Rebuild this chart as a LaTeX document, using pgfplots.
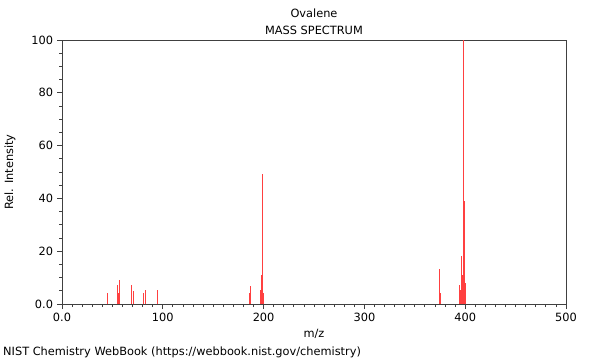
\documentclass[border=0pt]{standalone}
\usepackage{fontspec}
\setmainfont{DejaVu Sans}
\usepackage{pgfplots}
\pgfplotsset{compat=1.18}
\definecolor{peak}{rgb}{1,0.25,0.25}
\definecolor{axc}{rgb}{0.25,0.25,0.25}
\begin{document}
\fontsize{11.4}{13}\selectfont
\begin{tikzpicture}[x=1bp,y=1bp]
\useasboundingbox (0,0) rectangle (600,360);
\begin{axis}[at={(62bp,56bp)}, anchor=south west, scale only axis,
  width=504bp, height=264bp,
  xmin=0, xmax=500, ymin=0, ymax=100,
  xtick={0,100,200,300,400,500}, xticklabels={0.0,100,200,300,400,500},
  ytick={0,20,40,60,80,100}, yticklabels={0.0,20,40,60,80,100},
  minor x tick num=9, minor y tick num=3,
  xtick pos=bottom, ytick pos=left, tick align=outside,
  major tick length=5bp, minor tick length=3bp,
  axis line style={axc, line width=0.8bp},
  every tick/.style={axc, line width=0.8bp},
  ticklabel style={font=\fontsize{11.4}{13}\selectfont},
  clip=false]
\addplot[ycomb, peak, line width=1bp, mark=none] coordinates {
(45,4.2) (55,7.2) (56,4.2) (57,9.1) (69,7.2) (71,5.0) (81,4.1) (83,5.2) (95,5.2)
(186,4.3) (187,7.0) (197,5.2) (198,11) (199,49.2) (200,4.3)
(374,13.4) (375,4.0)
(394,7.2) (395,5.3) (396,18) (397,11) (398,100) (399,39) (400,8)
};
\end{axis}
\node at (314,347) {Ovalene};
\node at (314,330) {MASS SPECTRUM};
\node at (314,26) {m/z};
\node[rotate=90] at (10,188) {Rel. Intensity};
\node[anchor=west, inner sep=0pt] at (3,8) {NIST Chemistry WebBook (https://webbook.nist.gov/chemistry)};
\end{tikzpicture}
\end{document}
